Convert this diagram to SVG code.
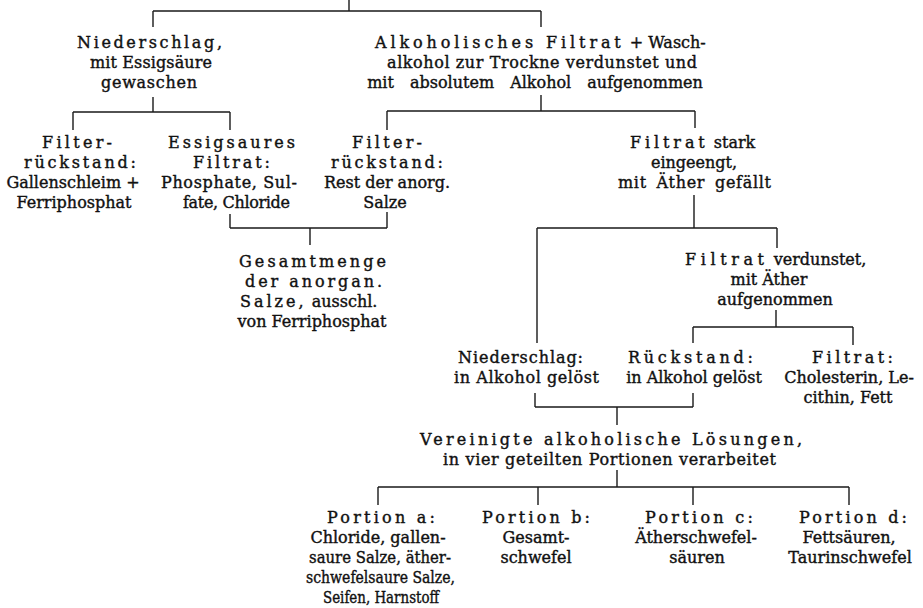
<svg xmlns="http://www.w3.org/2000/svg" width="923" height="608" viewBox="0 0 923 608">
<style>
.t{font-family:"DejaVu Serif","Liberation Serif",serif;font-size:16px;fill:#111;stroke:#111;stroke-width:0.4px}
.m{text-anchor:middle}
.c{fill:none;stroke:#1a1a1a;stroke-width:1.4}
</style>
<rect width="923" height="608" fill="#fff"/>
<g id="connectors" class="c">
<path d="M349,0V11M153,11H541M153,11V27M541,11V27"/>
<path d="M153,97V112M73,112H230M73,112V130M230,112V130"/>
<path d="M541,95V111M387,111H695M387,111V130M695,111V128"/>
<path d="M230,214V228M387,212V228M230,228H387M310,228V245"/>
<path d="M694,195V228M537,228H777M537,228V343M777,228V248"/>
<path d="M776,310V327M693,327H853M693,327V343M853,327V345"/>
<path d="M535,393V407M693,393V407M535,407H693M617,407V425"/>
<path d="M617,470V487M378,487H849M378,487V505M538,487V505M693,487V505M849,487V505"/>
</g>
<g id="n1" class="t">
<text x="77" y="48" textLength="145" lengthAdjust="spacing">Niederschlag,</text>
<text x="90" y="68" textLength="122" lengthAdjust="spacing">mit Essigsäure</text>
<text x="101" y="88" textLength="96" lengthAdjust="spacing">gewaschen</text>
</g>
<g id="n2" class="t">
<text x="375" y="48"><tspan letter-spacing="3.9">Alkoholisches Filtrat</tspan> + Wasch-</text>
<text x="387" y="68" textLength="310" lengthAdjust="spacing">alkohol zur Trockne verdunstet und</text>
<text x="535" y="88" text-anchor="middle" word-spacing="11">mit absolutem Alkohol aufgenommen</text>
</g>
<g id="n3" class="t">
<text x="42" y="148" textLength="70" lengthAdjust="spacing">Filter-</text>
<text x="24" y="168" textLength="112" lengthAdjust="spacing">rückstand:</text>
<text class="m" x="73" y="188">Gallenschleim +</text>
<text class="m" x="74" y="208">Ferriphosphat</text>
</g>
<g id="n4" class="t">
<text x="168" y="148" textLength="127" lengthAdjust="spacing">Essigsaures</text>
<text x="193" y="168" textLength="77" lengthAdjust="spacing">Filtrat:</text>
<text x="161" y="188" textLength="136" lengthAdjust="spacing">Phosphate, Sul-</text>
<text x="183" y="208" textLength="107" lengthAdjust="spacing">fate, Chloride</text>
</g>
<g id="n5" class="t">
<text x="352" y="148" textLength="70" lengthAdjust="spacing">Filter-</text>
<text x="331" y="168" textLength="112" lengthAdjust="spacing">rückstand:</text>
<text class="m" x="387" y="188">Rest der anorg.</text>
<text class="m" x="385" y="208">Salze</text>
</g>
<g id="n6" class="t">
<text x="630" y="148"><tspan letter-spacing="3.9">Filtrat</tspan> stark</text>
<text class="m" x="694" y="168">eingeengt,</text>
<text x="618" y="188" textLength="153" lengthAdjust="spacing" word-spacing="4">mit Äther gefällt</text>
</g>
<g id="n7" class="t">
<text x="239" y="267" textLength="147" lengthAdjust="spacing">Gesamtmenge</text>
<text x="245" y="287" textLength="137" lengthAdjust="spacing">der anorgan.</text>
<text x="240" y="307"><tspan letter-spacing="3">Salze,</tspan> ausschl.</text>
<text class="m" x="312" y="327">von Ferriphosphat</text>
</g>
<g id="n8" class="t">
<text x="685" y="265"><tspan letter-spacing="4.6">Filtrat</tspan> verdunstet,</text>
<text class="m" x="769" y="285">mit Äther</text>
<text class="m" x="775" y="305">aufgenommen</text>
</g>
<g id="n9" class="t">
<text x="458" y="363" textLength="125" lengthAdjust="spacing">Niederschlag:</text>
<text x="454" y="383" textLength="145" lengthAdjust="spacing">in Alkohol gelöst</text>
</g>
<g id="n10" class="t">
<text x="628" y="363" textLength="125" lengthAdjust="spacing">Rückstand:</text>
<text class="m" x="694" y="383">in Alkohol gelöst</text>
</g>
<g id="n11" class="t">
<text x="812" y="363" textLength="81" lengthAdjust="spacing">Filtrat:</text>
<text class="m" x="849" y="383">Cholesterin, Le-</text>
<text class="m" x="848" y="403">cithin, Fett</text>
</g>
<g id="n12" class="t">
<text x="420" y="445" textLength="382" lengthAdjust="spacing">Vereinigte alkoholische Lösungen,</text>
<text x="443" y="465" textLength="333" lengthAdjust="spacing">in vier geteilten Portionen verarbeitet</text>
</g>
<g id="n13" class="t">
<text x="327" y="523" textLength="108" lengthAdjust="spacing">Portion a:</text>
<text class="m" x="378" y="543">Chloride, gallen-</text>
<text x="309" y="563" textLength="142" lengthAdjust="spacingAndGlyphs">saure Salze, äther-</text>
<text x="306" y="583" textLength="149" lengthAdjust="spacingAndGlyphs">schwefelsaure Salze,</text>
<text x="323" y="603" textLength="116" lengthAdjust="spacingAndGlyphs">Seifen, Harnstoff</text>
</g>
<g id="n14" class="t">
<text x="482" y="523" textLength="108" lengthAdjust="spacing">Portion b:</text>
<text class="m" x="536" y="543">Gesamt-</text>
<text class="m" x="536" y="563">schwefel</text>
</g>
<g id="n15" class="t">
<text x="645" y="523" textLength="108" lengthAdjust="spacing">Portion c:</text>
<text class="m" x="696" y="543">Ätherschwefel-</text>
<text class="m" x="697" y="563">säuren</text>
</g>
<g id="n16" class="t">
<text x="799" y="523" textLength="108" lengthAdjust="spacing">Portion d:</text>
<text class="m" x="849" y="543">Fettsäuren,</text>
<text class="m" x="850" y="563">Taurinschwefel</text>
</g>
</svg>
